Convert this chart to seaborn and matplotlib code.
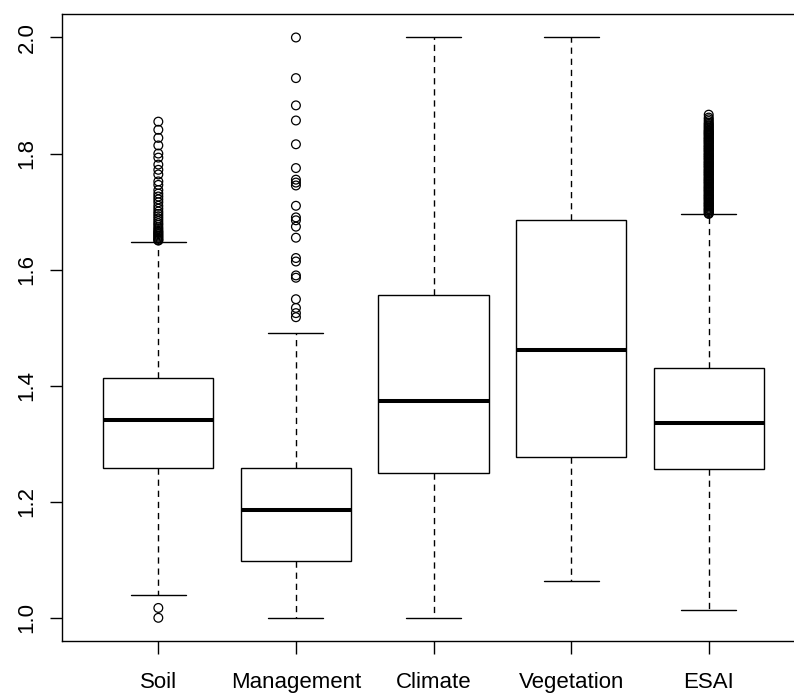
import pandas as pd
import matplotlib
matplotlib.use("Agg")
import matplotlib.pyplot as plt
import seaborn as sns

sns.set_style("ticks")
plt.rcParams['font.family'] = ['Liberation Sans', 'DejaVu Sans']

# 1) Summary values read off the boxes
categories = ["Soil", "Management", "Climate", "Vegetation", "ESAI"]
whisker_low = [1.040, 1.000, 1.000, 1.063, 1.014]
q1 = [1.259, 1.098, 1.249, 1.277, 1.256]
median = [1.341, 1.186, 1.374, 1.462, 1.335]
q3 = [1.414, 1.258, 1.557, 1.686, 1.430]
whisker_high = [1.647, 1.491, 2.000, 2.000, 1.695]

# 2) Outliers (circles) per group
soil_out = [1.000, 1.017,
            1.650, 1.651, 1.653, 1.655, 1.657, 1.659, 1.661, 1.663, 1.665,
            1.667, 1.670, 1.673, 1.677, 1.680, 1.684, 1.688, 1.692, 1.696,
            1.700, 1.705, 1.710, 1.716, 1.721, 1.726, 1.731, 1.737, 1.746,
            1.752, 1.764, 1.772, 1.781, 1.793, 1.800, 1.814, 1.827, 1.841,
            1.855]
management_out = [1.518, 1.525, 1.534, 1.549, 1.586, 1.590, 1.614, 1.620,
                  1.655, 1.674, 1.685, 1.690, 1.710, 1.745, 1.750, 1.755,
                  1.775, 1.816, 1.857, 1.883, 1.930, 2.000]
esai_out = [1.696, 1.697, 1.699, 1.701, 1.702, 1.704, 1.705, 1.707, 1.709,
            1.710, 1.712, 1.713, 1.715, 1.716, 1.718, 1.720, 1.721, 1.723,
            1.724, 1.726, 1.727, 1.729, 1.730, 1.732, 1.734, 1.735, 1.737,
            1.738, 1.740, 1.741, 1.743, 1.744, 1.746, 1.748, 1.749, 1.751,
            1.752, 1.754, 1.755, 1.757, 1.758, 1.760, 1.762, 1.763, 1.765,
            1.766, 1.768, 1.769, 1.771, 1.772, 1.774, 1.776, 1.777, 1.779,
            1.780, 1.782, 1.783, 1.785, 1.786, 1.788, 1.790, 1.791, 1.793,
            1.794, 1.796, 1.797, 1.799, 1.800, 1.802, 1.804, 1.805, 1.807,
            1.808, 1.810, 1.811, 1.813, 1.814, 1.816, 1.818, 1.819, 1.821,
            1.822, 1.824, 1.825, 1.827, 1.828, 1.830, 1.832, 1.833, 1.835,
            1.836, 1.838, 1.839, 1.841, 1.843, 1.845, 1.847, 1.849, 1.851,
            1.853, 1.856, 1.859, 1.862, 1.867]

ytick_vals = [1.0, 1.2, 1.4, 1.6, 1.8, 2.0]
ytick_labels = ["1.0", "1.2", "1.4", "1.6", "1.8", "2.0"]

# 3) Long-form tables
rows = []
for i, c in enumerate(categories):
    for v in (whisker_low[i], q1[i], median[i], q3[i], whisker_high[i]):
        rows.append({"group": c, "value": v})
box_df = pd.DataFrame(rows)

out_rows = ([{"group": "Soil", "value": v} for v in soil_out]
            + [{"group": "Management", "value": v} for v in management_out]
            + [{"group": "ESAI", "value": v} for v in esai_out])
out_df = pd.DataFrame(out_rows)

# 4) Plot
fig = plt.figure(figsize=(7.94, 6.93), dpi=100)
ax = fig.add_axes([0.0781, 0.0750, 0.9358, 0.9044])

sns.boxplot(data=box_df, x="group", y="value", order=categories,
            whis=(0, 100), width=0.8, color="white", linecolor="black",
            linewidth=1.0, saturation=1, showfliers=False,
            medianprops={"linewidth": 2.9, "color": "black"},
            whiskerprops={"linestyle": (0, (4.5, 3.5)), "linewidth": 1.0},
            capprops={"linewidth": 1.0}, ax=ax)

n_before = len(ax.collections)
sns.stripplot(data=out_df, x="group", y="value", order=categories,
              jitter=False, color="black", size=6.3, ax=ax)
for coll in ax.collections[n_before:]:
    coll.set_facecolor("none")
    coll.set_edgecolor("black")
    coll.set_linewidth(0.9)

ax.set_xlim(-0.7, 4.7)
ax.set_ylim(0.96, 2.04)
ax.set_xlabel("")
ax.set_ylabel("")
ax.set_yticks(ytick_vals)
ax.set_yticklabels(ytick_labels, rotation=90, va="center")
ax.set_xticks(range(len(categories)))
ax.set_xticklabels(categories)
ax.tick_params(axis="x", length=9, width=1.0, pad=13, labelsize=16, colors="black")
ax.tick_params(axis="y", length=9, width=1.0, pad=8.6, labelsize=16, colors="black")
for side in ["top", "bottom", "left", "right"]:
    ax.spines[side].set_visible(True)
    ax.spines[side].set_linewidth(1.0)
    ax.spines[side].set_color("black")

fig.savefig("out.png", dpi=100)
